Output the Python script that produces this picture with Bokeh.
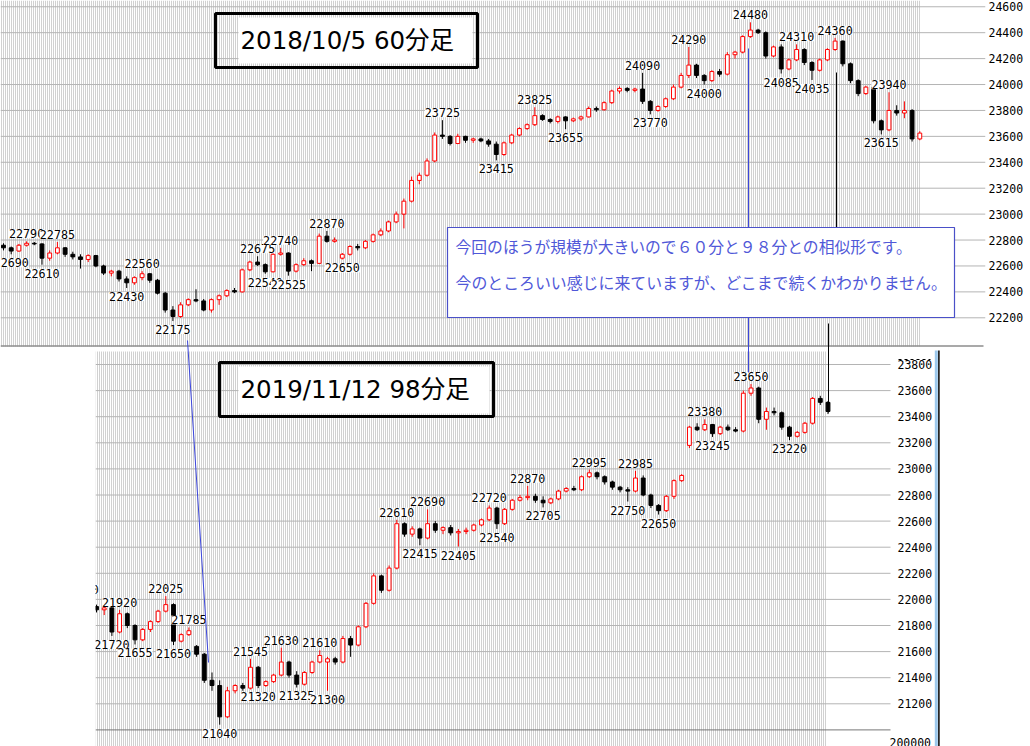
from bokeh.plotting import figure
from bokeh.models import Range1d, LinearAxis, FixedTicker, ColumnDataSource, BoxAnnotation, Label
from bokeh.core.properties import value
from bokeh.embed import file_html
from bokeh.resources import INLINE

# ---------------- data: 2018/10/5 60-minute candles (top panel) ----------------
top_open = [22760,22740,22715,22760,22775,22770,22660,22700,22740,22690,
            22670,22650,22680,22600,22545,22560,22500,22470,22510,22540,
            22490,22390,22260,22210,22300,22340,22330,22260,22340,22370,
            22410,22400,22570,22630,22610,22555,22690,22700,22560,22610,
            22640,22620,22830,22790,22660,22690,22750,22740,22790,22840,
            22870,22940,23000,23100,23260,23300,23410,23610,23600,23545,
            23600,23570,23580,23565,23540,23460,23550,23610,23660,23690,
            23760,23730,23715,23750,23720,23735,23750,23815,23805,23860,
            23950,23970,23955,23965,23870,23800,23830,23890,23980,24070,
            24150,24070,24030,24100,24080,24230,24250,24370,24420,24400,
            24220,24290,24120,24190,24270,24170,24110,24190,24270,24335,
            24160,24030,23930,23980,23720,23650,23800,23780,23800,23580]
top_high = [22775,22750,22770,22790,22785,22775,22720,22785,22745,22710,
            22690,22690,22685,22610,22570,22570,22520,22520,22560,22545,
            22500,22400,22290,22320,22350,22420,22345,22350,22380,22420,
            22430,22580,22640,22675,22620,22700,22740,22705,22620,22660,
            22650,22850,22870,22820,22700,22760,22770,22800,22850,22890,
            22950,23020,23120,23290,23320,23430,23630,23725,23610,23620,
            23605,23590,23590,23580,23560,23560,23620,23670,23700,23825,
            23770,23740,23760,23755,23745,23760,23830,23830,23870,23960,
            23985,23980,23975,24090,23880,23840,23900,24000,24090,24290,
            24160,24080,24110,24120,24250,24260,24380,24480,24430,24410,
            24300,24310,24200,24310,24280,24180,24200,24280,24360,24340,
            24170,24040,23990,23985,23730,23940,23840,23870,23810,23640]
top_low = [22720,22690,22710,22750,22760,22610,22640,22690,22670,22650,
           22580,22630,22590,22530,22520,22480,22430,22455,22490,22470,
           22380,22240,22175,22200,22290,22320,22250,22240,22300,22360,
           22390,22395,22560,22600,22540,22550,22680,22525,22550,22600,
           22560,22615,22780,22780,22650,22680,22720,22730,22780,22830,
           22860,22930,22890,23090,23230,23290,23400,23580,23530,23540,
           23550,23550,23555,23520,23415,23450,23540,23600,23650,23680,
           23720,23700,23700,23655,23710,23720,23745,23790,23800,23850,
           23930,23940,23940,23850,23770,23790,23820,23880,23970,24050,
           24050,24000,24020,24060,24070,24200,24240,24360,24390,24200,
           24210,24085,24110,24180,24150,24035,24100,24180,24260,24140,
           24010,23910,23920,23700,23615,23640,23760,23740,23560,23570]
top_close = [22740,22715,22760,22775,22770,22660,22700,22740,22690,22670,
             22650,22680,22600,22545,22560,22500,22470,22510,22540,22490,
             22390,22260,22210,22300,22340,22330,22260,22340,22370,22410,
             22400,22570,22630,22610,22555,22690,22700,22560,22610,22640,
             22620,22830,22790,22800,22690,22750,22740,22790,22840,22870,
             22940,23000,23100,23260,23300,23410,23610,23600,23545,23600,
             23570,23580,23565,23540,23460,23550,23610,23660,23690,23760,
             23730,23715,23750,23720,23735,23750,23815,23805,23860,23950,
             23970,23955,23965,23870,23800,23830,23890,23980,24070,24150,
             24070,24030,24100,24080,24230,24250,24370,24420,24400,24220,
             24290,24120,24190,24270,24170,24110,24190,24270,24335,24160,
             24030,23930,23980,23720,23650,23800,23780,23800,23580,23625]
top_peaks = [3, 7, 18, 33, 36, 42, 57, 69, 83, 89, 97, 103, 108, 115]
top_troughs = [1, 5, 16, 22, 34, 37, 44, 64, 73, 84, 91, 101, 105, 114]
top_ticks = [22200, 22400, 22600, 22800, 23000, 23200, 23400, 23600, 23800, 24000, 24200, 24400, 24600]

# ---------------- data: 2019/11/12 98-minute candles (bottom panel) ----------------
bot_open = [21960,21990,21945,21920,21935,21750,21890,21800,21690,21770,
            21830,21910,21960,21680,21730,21640,21580,21380,21340,21100,
            21300,21340,21320,21480,21340,21370,21420,21520,21420,21350,
            21440,21520,21520,21545,21520,21700,21650,21790,21970,22180,
            22070,22240,22580,22500,22540,22470,22580,22530,22550,22510,
            22520,22530,22570,22610,22700,22580,22690,22760,22780,22790,
            22760,22740,22770,22830,22850,22840,22940,22970,22940,22900,
            22860,22840,22830,22930,22800,22720,22680,22790,22910,23180,
            23320,23300,23340,23270,23320,23300,23290,23580,23620,23380,
            23440,23430,23320,23250,23280,23350,23540,23510]
bot_high = [22020,22000,21960,21950,21940,21920,21900,21810,21780,21840,
            21920,22025,21970,21740,21785,21650,21590,21440,21380,21330,
            21350,21360,21545,21490,21380,21430,21630,21530,21450,21450,
            21530,21610,21560,21560,21720,21720,21800,21980,22200,22190,
            22260,22610,22590,22560,22550,22690,22600,22560,22570,22540,
            22550,22580,22620,22720,22710,22700,22770,22800,22870,22810,
            22790,22780,22840,22860,22870,22950,22995,22980,22950,22910,
            22870,22860,22985,22950,22810,22730,22800,22920,22960,23330,
            23350,23380,23345,23330,23340,23320,23600,23650,23630,23470,
            23470,23440,23330,23290,23360,23550,23560,23520]
bot_low = [21950,21930,21900,21880,21720,21740,21780,21655,21680,21750,
           21820,21900,21650,21670,21720,21560,21360,21300,21040,21090,
           21280,21300,21310,21320,21330,21360,21410,21400,21325,21340,
           21430,21510,21300,21500,21510,21560,21640,21780,21960,22050,
           22060,22230,22480,22480,22415,22460,22510,22500,22490,22405,
           22500,22520,22560,22600,22540,22570,22680,22750,22760,22740,
           22705,22730,22760,22820,22830,22830,22930,22920,22880,22840,
           22820,22750,22820,22790,22700,22650,22670,22770,22900,23160,
           23290,23290,23245,23260,23290,23280,23280,23560,23350,23300,
           23410,23300,23220,23240,23270,23340,23490,23420]
bot_close = [21990,21945,21920,21935,21750,21890,21800,21690,21770,21830,
             21910,21960,21680,21730,21760,21580,21380,21340,21100,21300,
             21340,21320,21480,21340,21370,21420,21520,21420,21350,21440,
             21520,21570,21545,21520,21700,21650,21790,21970,22180,22070,
             22240,22580,22500,22540,22470,22580,22530,22550,22510,22520,
             22530,22570,22610,22700,22580,22690,22760,22780,22790,22760,
             22740,22770,22830,22850,22840,22940,22970,22940,22900,22860,
             22840,22830,22930,22800,22720,22680,22790,22910,22950,23320,
             23300,23340,23270,23320,23300,23290,23580,23620,23380,23440,
             23430,23320,23250,23280,23350,23540,23510,23440]
bot_peaks = [0, 5, 11, 14, 22, 26, 31, 41, 45, 53, 58, 66, 72, 81, 87]
bot_troughs = [4, 7, 12, 18, 23, 28, 32, 44, 49, 54, 60, 71, 75, 82, 92]
bot_ticks = [21200, 21400, 21600, 21800, 22000, 22200, 22400, 22600, 22800, 23000, 23200, 23400, 23600, 23800]
vol_tick_label = "200000"

title_top = "2018/10/5 60分足"
title_bot = "2019/11/12 98分足"
note_1 = "今回のほうが規模が大きいので６０分と９８分との相似形です。"
note_2 = "今のところいい感じに来ていますが、どこまで続くかわかりません。"

# ---------------- layout helpers (reference-pixel geometry -> data units) ----------------
REF_W, REF_H = 985, 746
def tx(px): return (px - 3.0) / 7.7
def ty(py): return 22200 + (317.3 - py) / 0.1296
def bx(px): return (px - 80.6) / 7.7
def by(py): return 21200 + (703.3 - py) / 0.1305

MONO = value("DejaVu Sans Mono")
GRID = "#b4b4b4"
HATCH = "#a2a2a2"

p = figure(frame_width=REF_W, frame_height=REF_H,
           x_range=Range1d(tx(0), tx(REF_W)), y_range=Range1d(ty(REF_H), ty(0)),
           output_backend="svg", toolbar_location=None, min_border=0,
           x_axis_location=None, y_axis_location=None,
           background_fill_color="white", border_fill_color="white")
p.outline_line_color = None
p.grid.visible = False
p.extra_x_ranges = {"bot": Range1d(bx(0), bx(REF_W))}
p.extra_y_ranges = {"bot": Range1d(by(REF_H), by(0))}
BOT = dict(x_range_name="bot", y_range_name="bot")

ax = LinearAxis(ticker=FixedTicker(ticks=top_ticks), axis_line_color=None,
                major_tick_line_color=None, minor_tick_line_color=None,
                major_tick_in=0, major_tick_out=0,
                major_label_standoff=3, major_label_text_font="DejaVu Sans Mono",
                major_label_text_font_size="11.5px", major_label_text_color="black")
p.add_layout(ax, "right")


def candles(o, h, l, c, kw):
    up = [cc >= oo for oo, cc in zip(o, c)]
    src = ColumnDataSource(dict(
        x=list(range(len(o))), h=h, l=l,
        top=[max(a, b) for a, b in zip(o, c)], bot=[min(a, b) for a, b in zip(o, c)],
        lc=["#ff0000" if u else "#000000" for u in up],
        fc=["#ffffff" if u else "#000000" for u in up]))
    p.segment(x0="x", y0="h", x1="x", y1="l", line_color="lc", line_width=1, source=src, **kw)
    p.vbar(x="x", width=0.5, top="top", bottom="bot", fill_color="fc", line_color="lc",
           line_width=1, source=src, **kw)


def extreme_labels(h, l, peaks, troughs, kw):
    p.text(x=peaks, y=[h[i] for i in peaks], text=[str(h[i]) for i in peaks],
           text_font=MONO, text_font_size="11.7px", text_color="black",
           text_align="center", text_baseline="bottom", y_offset=-3,
           background_fill_color="white", **kw)
    p.text(x=troughs, y=[l[i] for i in troughs], text=[str(l[i]) for i in troughs],
           text_font=MONO, text_font_size="11.7px", text_color="black",
           text_align="center", text_baseline="top", y_offset=4,
           background_fill_color="white", **kw)


# ---------------- top panel ----------------
p.quad(left=tx(0), right=tx(920), top=ty(0), bottom=ty(346), fill_color="white", line_color=None,
       hatch_pattern="vertical_line", hatch_color=HATCH, hatch_scale=2, hatch_weight=1)
p.segment(x0=[tx(0)] * len(top_ticks), x1=[tx(985)] * len(top_ticks), y0=top_ticks, y1=top_ticks,
          line_color=GRID, line_width=1)
p.segment(x0=[tx(0)], x1=[tx(983)], y0=[ty(345.5)], y1=[ty(345.5)], line_color="#8c8c8c", line_width=1.5)
candles(top_open, top_high, top_low, top_close, {})
extreme_labels(top_high, top_low, top_peaks, top_troughs, {})

# ---------------- bottom panel ----------------
p.quad(left=bx(95), right=bx(826), top=by(351), bottom=by(REF_H), fill_color="white", line_color=None,
       hatch_pattern="vertical_line", hatch_color=HATCH, hatch_scale=2, hatch_weight=1, **BOT)
p.segment(x0=[bx(95)] * len(bot_ticks), x1=[bx(890)] * len(bot_ticks), y0=bot_ticks, y1=bot_ticks,
          line_color=GRID, line_width=1, **BOT)
p.segment(x0=[bx(95)], x1=[bx(890)], y0=[by(729.4)], y1=[by(729.4)], line_color="#777777", line_width=1, **BOT)
candles(bot_open, bot_high, bot_low, bot_close, BOT)
extreme_labels(bot_high, bot_low, bot_peaks, bot_troughs, BOT)
# window edge of lower chart (hides the bars scrolled out to the left)
p.quad(left=bx(0), right=bx(95), top=by(349), bottom=by(REF_H), fill_color="white", line_color=None, **BOT)
p.text(x=[bx(897)] * len(bot_ticks), y=bot_ticks, text=[str(t) for t in bot_ticks],
       text_font=MONO, text_font_size="11.5px", text_color="black",
       text_align="left", text_baseline="middle", **BOT)
p.text(x=[bx(889)], y=[by(742)], text=[vol_tick_label], text_font=MONO, text_font_size="11.5px",
       text_color="black", text_align="left", text_baseline="middle", **BOT)
p.segment(x0=[bx(898)], x1=[bx(930)], y0=[by(359)], y1=[by(359)], line_color="black",
          line_width=1, line_dash="3 3", **BOT)
p.segment(x0=[bx(935.8)], x1=[bx(935.8)], y0=[by(350)], y1=[by(REF_H)], line_color="#9cc8ec",
          line_width=3, **BOT)
p.segment(x0=[bx(938.4)], x1=[bx(938.4)], y0=[by(350)], y1=[by(REF_H)], line_color="black",
          line_width=1.5, **BOT)

# ---------------- hand-drawn connectors ----------------
blue_px = [(187, 340, 208, 662), (748, 48, 748, 372)]
black_px = [(836, 72, 836, 227), (828, 323, 828, 412)]
for segs, col in ((blue_px, "#3c46dc"), (black_px, "#000000")):
    p.segment(x0=[tx(a) for a, b, c, d in segs], y0=[ty(b) for a, b, c, d in segs],
              x1=[tx(c) for a, b, c, d in segs], y1=[ty(d) for a, b, c, d in segs],
              line_color=col, line_width=1)

# ---------------- title boxes ----------------
TITLE_FONT = "'DejaVu Sans', 'Noto Sans CJK JP'"
for (l, r, t, b), (il, ir, it, ib), (lx, ly), txt in (
        ((215, 477, 13, 67), (238, 472, 17, 63), (240, 40), title_top),
        ((219, 493, 362, 416), (238, 489, 366, 413), (240, 389), title_bot)):
    p.add_layout(BoxAnnotation(left=tx(l), right=tx(r), top=ty(t), bottom=ty(b),
                               fill_alpha=0, line_color="black", line_alpha=1, line_width=3))
    p.add_layout(BoxAnnotation(left=tx(il), right=tx(ir), top=ty(it), bottom=ty(ib),
                               fill_color="white", fill_alpha=1, line_alpha=0))
    p.add_layout(Label(x=tx(lx), y=ty(ly), text=txt, text_font=TITLE_FONT, text_font_size="24.5px",
                       text_color="black", text_baseline="middle", text_align="left"))

# ---------------- comment box ----------------
NOTE_COL = "#5058d8"
p.add_layout(BoxAnnotation(left=tx(447), right=tx(954), top=ty(227), bottom=ty(317),
                           fill_color="white", fill_alpha=1, line_color="#4a50c8",
                           line_alpha=1, line_width=1.2))
for txt, ly, fs in ((note_1, 246, "15.8px"), (note_2, 282, "15.9px")):
    p.add_layout(Label(x=tx(455), y=ty(ly), text=txt, text_font="Noto Sans CJK JP",
                       text_font_size=fs, text_color=NOTE_COL,
                       text_baseline="middle", text_align="left"))

open("out.html", "w").write(file_html(p, INLINE))
